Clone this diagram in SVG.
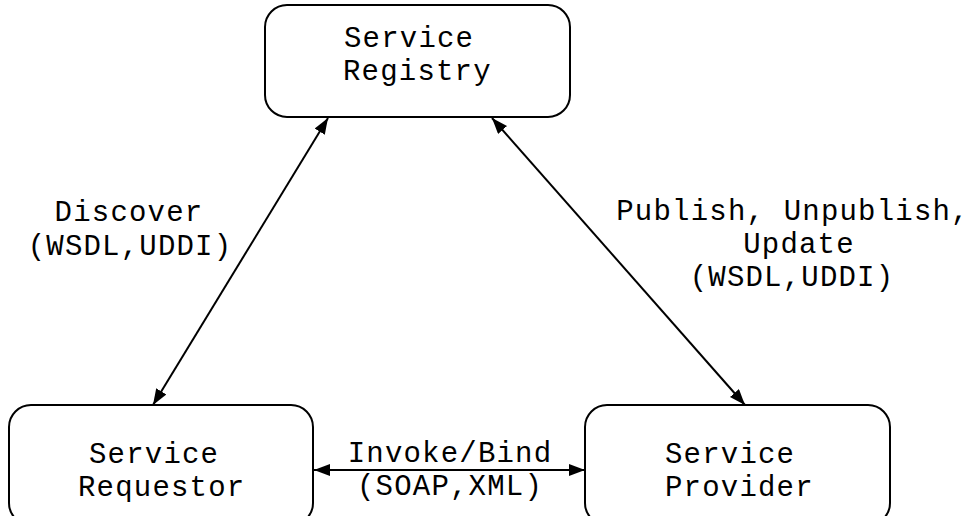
<svg xmlns="http://www.w3.org/2000/svg" width="977" height="516" viewBox="0 0 977 516">
<style>
.box{fill:#fff;stroke:#000;stroke-width:2}
.t{font-family:"Courier New","Nimbus Mono PS","FreeMono","Liberation Mono",monospace;font-size:29px;letter-spacing:1.2px;fill:#000}
.c{stroke:#000;stroke-width:2;fill:none;marker-start:url(#a);marker-end:url(#a)}
</style>
<defs>
<marker id="a" viewBox="0 0 16 12" refX="16" refY="6" markerWidth="16" markerHeight="12" markerUnits="userSpaceOnUse" orient="auto-start-reverse">
<path d="M0,0 L16,6 L0,12 Z" fill="#000"/>
</marker>
</defs>
<rect width="977" height="516" fill="#fff"/>
<g id="registry">
<rect class="box" x="265" y="5" width="305" height="112" rx="22"/>
<text class="t" x="344" y="47">Service</text>
<text class="t" x="343" y="80">Registry</text>
</g>
<g id="requestor">
<rect class="box" x="9" y="405" width="304" height="120" rx="22"/>
<text class="t" x="89" y="463">Service</text>
<text class="t" x="78" y="496">Requestor</text>
</g>
<g id="provider">
<rect class="box" x="585" y="405" width="305" height="120" rx="22"/>
<text class="t" x="665" y="463">Service</text>
<text class="t" x="665" y="496">Provider</text>
</g>
<g id="connectors">
<line class="c" x1="153" y1="405" x2="328" y2="118"/>
<line class="c" x1="745" y1="405" x2="492" y2="118"/>
<line class="c" x1="314" y1="470" x2="585" y2="470"/>
</g>
<g id="labels">
<text class="t" x="129" y="221" text-anchor="middle">Discover</text>
<text class="t" x="130" y="255" text-anchor="middle">(WSDL,UDDI)</text>
<text class="t" x="793" y="220" text-anchor="middle">Publish, Unpublish,</text>
<text class="t" x="799" y="253" text-anchor="middle">Update</text>
<text class="t" x="792" y="286" text-anchor="middle">(WSDL,UDDI)</text>
<text class="t" x="450" y="462" text-anchor="middle">Invoke/Bind</text>
<text class="t" x="450" y="495" text-anchor="middle">(SOAP,XML)</text>
</g>
</svg>
